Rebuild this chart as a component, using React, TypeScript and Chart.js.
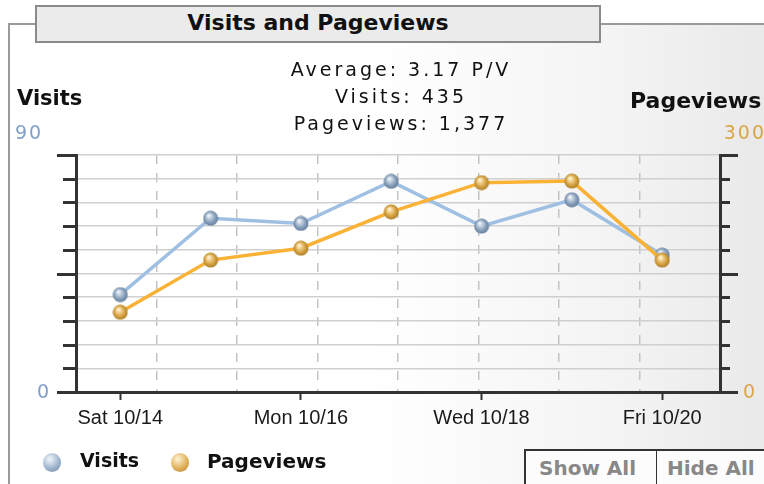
import React, { useEffect, useRef } from "react";
import { Chart, registerables } from "chart.js";

Chart.register(...registerables);

const dateLabels = ["Sat 10/14", "Sun 10/15", "Mon 10/16", "Tue 10/17", "Wed 10/18", "Thu 10/19", "Fri 10/20"];
const visits = [37, 66, 64, 80, 63, 73, 52];
const pageviews = [101, 167, 182, 228, 265, 267, 167];
const visitsMax = 90;
const visitsStep = 9;
const pageviewsMax = 300;
const pageviewsStep = 30;
const summaryLines = ["Average: 3.17 P/V", "Visits: 435", "Pageviews: 1,377"];

function sphere(size: number, light: string, mid: string, dark: string): HTMLCanvasElement {
  const c = document.createElement("canvas");
  c.width = size;
  c.height = size;
  const ctx = c.getContext("2d")!;
  const r = size / 2;
  const g = ctx.createRadialGradient(size * 0.38, size * 0.32, size * 0.04, r, r, r);
  g.addColorStop(0, light);
  g.addColorStop(0.55, mid);
  g.addColorStop(1, dark);
  ctx.beginPath();
  ctx.arc(r, r, r - 0.5, 0, Math.PI * 2);
  ctx.fillStyle = g;
  ctx.fill();
  return c;
}

const axisDecor = {
  id: "axisDecor",
  afterDraw(chart: any) {
    const ctx = chart.ctx as CanvasRenderingContext2D;
    const yl = chart.scales.y;
    const yr = chart.scales.y1;
    ctx.save();
    ctx.strokeStyle = "#333333";
    ctx.lineWidth = 3;
    ctx.lineCap = "butt";
    yl.ticks.forEach((t: any, i: number) => {
      const py = Math.round(yl.getPixelForValue(t.value)) + 0.5;
      const len = i % 5 === 0 ? 19 : 13;
      ctx.beginPath();
      ctx.moveTo(yl.right + 1, py);
      ctx.lineTo(yl.right - len, py);
      ctx.stroke();
    });
    yr.ticks.forEach((t: any, i: number) => {
      const py = Math.round(yr.getPixelForValue(t.value)) + 0.5;
      const len = i % 5 === 0 ? 18 : 10;
      ctx.beginPath();
      ctx.moveTo(yr.left - 1, py);
      ctx.lineTo(yr.left + len, py);
      ctx.stroke();
    });
    ctx.font = '19px "DejaVu Sans"';
    (ctx as any).letterSpacing = "2px";
    ctx.textBaseline = "alphabetic";
    ctx.fillStyle = "#7f9fc8";
    ctx.textAlign = "left";
    ctx.fillText(String(yl.max), yl.right - 61, yl.top - 16);
    ctx.textAlign = "center";
    ctx.fillText(String(yl.min), yl.right - 32, yl.bottom + 6);
    ctx.fillStyle = "#dca447";
    ctx.textAlign = "right";
    ctx.fillText(String(yr.max), yr.left + 46, yr.top - 16);
    ctx.textAlign = "center";
    ctx.fillText(String(yr.min), yr.left + 30, yr.bottom + 6);
    ctx.restore();
  },
};

export default function App() {
  const ref = useRef<HTMLCanvasElement | null>(null);

  useEffect(() => {
    if (!ref.current) return;
    const bluePt = sphere(16, "#eef3f9", "#93a9c3", "#5d7897");
    const orangePt = sphere(16, "#fff3cf", "#dcaa4c", "#a97a23");
    const chart = new Chart(ref.current, {
      type: "line",
      data: {
        datasets: [
          {
            label: "Pageviews",
            data: pageviews.map((v, i) => ({ x: i, y: v })),
            yAxisID: "y1",
            xAxisID: "x",
            borderColor: "#f9b235",
            borderWidth: 3.5,
            pointStyle: orangePt as any,
            pointRadius: 8,
            tension: 0,
            order: 1,
          },
          {
            label: "Visits",
            data: visits.map((v, i) => ({ x: i, y: v })),
            yAxisID: "y",
            xAxisID: "x",
            borderColor: "#9fc0e2",
            borderWidth: 3.5,
            pointStyle: bluePt as any,
            pointRadius: 8,
            tension: 0,
            order: 2,
          },
        ],
      },
      options: {
        animation: false,
        responsive: false,
        maintainAspectRatio: false,
        layout: { padding: { left: 76, right: 44, top: 155, bottom: 52 } },
        plugins: { legend: { display: false }, tooltip: { enabled: false }, title: { display: false } },
        scales: {
          x: {
            type: "linear",
            position: "bottom",
            min: -0.49,
            max: 6.64,
            afterBuildTicks: (scale: any) => {
              scale.ticks = dateLabels.map((_, i) => ({ value: i }));
            },
            afterFit: (scale: any) => {
              scale.height = 40;
            },
            grid: {
              drawOnChartArea: false,
              drawTicks: true,
              tickLength: 8,
              tickWidth: 2,
              tickColor: (c: any) => (c.tick && c.tick.value % 2 === 0 ? "#333333" : "rgba(0,0,0,0)"),
            },
            border: { display: true, color: "#333333", width: 3 },
            ticks: {
              autoSkip: false,
              maxRotation: 0,
              padding: 6,
              color: "#1a1a1a",
              font: { family: '"Liberation Sans"', size: 20 },
              callback: (v: any) => (Number(v) % 2 === 0 ? dateLabels[Number(v)] : ""),
            },
          },
          x2: {
            type: "linear",
            position: "top",
            min: 0,
            max: 8,
            afterBuildTicks: (scale: any) => {
              scale.ticks = Array.from({ length: 9 }, (_, i) => ({ value: i }));
            },
            afterFit: (scale: any) => {
              scale.height = 0;
            },
            grid: { drawOnChartArea: true, drawTicks: false, color: "#c4c4c4", lineWidth: 1.5 },
            border: { display: false, dash: [9, 9] },
            ticks: { display: false },
          },
          y: {
            type: "linear",
            position: "left",
            min: 0,
            max: visitsMax,
            ticks: { display: false, stepSize: visitsStep },
            afterFit: (scale: any) => {
              scale.width = 0;
            },
            grid: { drawTicks: false, color: "#cfcfcf", lineWidth: 1.5 },
            border: { display: true, color: "#333333", width: 3 },
          },
          y1: {
            type: "linear",
            position: "right",
            min: 0,
            max: pageviewsMax,
            ticks: { display: false, stepSize: pageviewsStep },
            afterFit: (scale: any) => {
              scale.width = 0;
            },
            grid: { drawOnChartArea: false, drawTicks: false },
            border: { display: true, color: "#333333", width: 3 },
          },
        },
      },
      plugins: [axisDecor],
    });
    return () => chart.destroy();
  }, []);

  const bold = '"DejaVu Sans", Verdana, sans-serif';
  const legendSphere = (light: string, mid: string, dark: string): React.CSSProperties => ({
    position: "absolute",
    width: 18,
    height: 19,
    borderRadius: "50%",
    background: `radial-gradient(circle at 38% 32%, ${light} 0%, ${mid} 55%, ${dark} 100%)`,
  });

  return (
    <div
      style={{
        position: "fixed",
        left: 0,
        top: 0,
        width: 764,
        height: 484,
        overflow: "hidden",
        background: "#ffffff",
        fontFamily: bold,
      }}
    >
      <div
        style={{
          position: "absolute",
          left: 8,
          top: 23,
          width: 800,
          height: 500,
          borderLeft: "2px solid #9a9a9a",
          borderTop: "2px solid #9a9a9a",
          background: "linear-gradient(90deg, #ffffff 0%, #ffffff 45%, #f4f4f4 75%, #e6e6e6 100%)",
        }}
      />
      <div
        style={{
          position: "absolute",
          left: 35,
          top: 5,
          width: 566,
          height: 38,
          boxSizing: "border-box",
          border: "2px solid #8a8a8a",
          background: "#ebebeb",
        }}
      />
      <div
        style={{
          position: "absolute",
          left: 35,
          top: 12,
          width: 566,
          textAlign: "center",
          fontSize: 22,
          lineHeight: "22px",
          fontWeight: "bold",
          color: "#111",
          whiteSpace: "nowrap",
        }}
      >
        Visits and Pageviews
      </div>
      <canvas ref={ref} width={764} height={484} style={{ position: "absolute", left: 0, top: 0, width: 764, height: 484 }} />
      <div
        style={{
          position: "absolute",
          left: 248,
          top: 60,
          width: 300,
          paddingLeft: 3,
          textAlign: "center",
          fontSize: 19,
          lineHeight: "27px",
          letterSpacing: "3px",
          color: "#111",
          whiteSpace: "nowrap",
          fontFamily: '"DejaVu Sans"',
        }}
      >
        {summaryLines.map((s) => (
          <div key={s} style={{ height: 27, lineHeight: "19px" }}>
            {s}
          </div>
        ))}
      </div>
      <div style={{ position: "absolute", left: 17, top: 88, fontSize: 21, lineHeight: "21px", fontWeight: "bold", color: "#111" }}>
        Visits
      </div>
      <div
        style={{
          position: "absolute",
          left: 630,
          top: 90,
          fontSize: 22,
          lineHeight: "22px",
          fontWeight: "bold",
          color: "#111",
          whiteSpace: "nowrap",
        }}
      >
        Pageviews
      </div>
      <div style={{ ...legendSphere("#f2f6fb", "#9fb4cd", "#6a84a3"), left: 43, top: 453 }} />
      <div style={{ position: "absolute", left: 80, top: 451, fontSize: 19, lineHeight: "19px", fontWeight: "bold", color: "#111" }}>
        Visits
      </div>
      <div style={{ ...legendSphere("#fff4d4", "#e0b05a", "#b2832c"), left: 171, top: 453 }} />
      <div style={{ position: "absolute", left: 207, top: 451, fontSize: 20, lineHeight: "20px", fontWeight: "bold", color: "#111" }}>
        Pageviews
      </div>
      <div
        style={{
          position: "absolute",
          left: 524,
          top: 449,
          width: 133,
          height: 60,
          boxSizing: "border-box",
          borderLeft: "2px solid #333",
          borderTop: "2px solid #333",
          borderRight: "1px solid #333",
          background: "#fcfcfc",
        }}
      />
      <div
        style={{
          position: "absolute",
          left: 656,
          top: 449,
          width: 140,
          height: 60,
          boxSizing: "border-box",
          borderLeft: "1px solid #333",
          borderTop: "2px solid #333",
          background: "#fcfcfc",
        }}
      />
      <div style={{ position: "absolute", left: 539, top: 458, fontSize: 20, lineHeight: "20px", fontWeight: "bold", color: "#888", whiteSpace: "nowrap" }}>
        Show All
      </div>
      <div style={{ position: "absolute", left: 667, top: 458, fontSize: 20, lineHeight: "20px", fontWeight: "bold", color: "#888", whiteSpace: "nowrap" }}>
        Hide All
      </div>
    </div>
  );
}
